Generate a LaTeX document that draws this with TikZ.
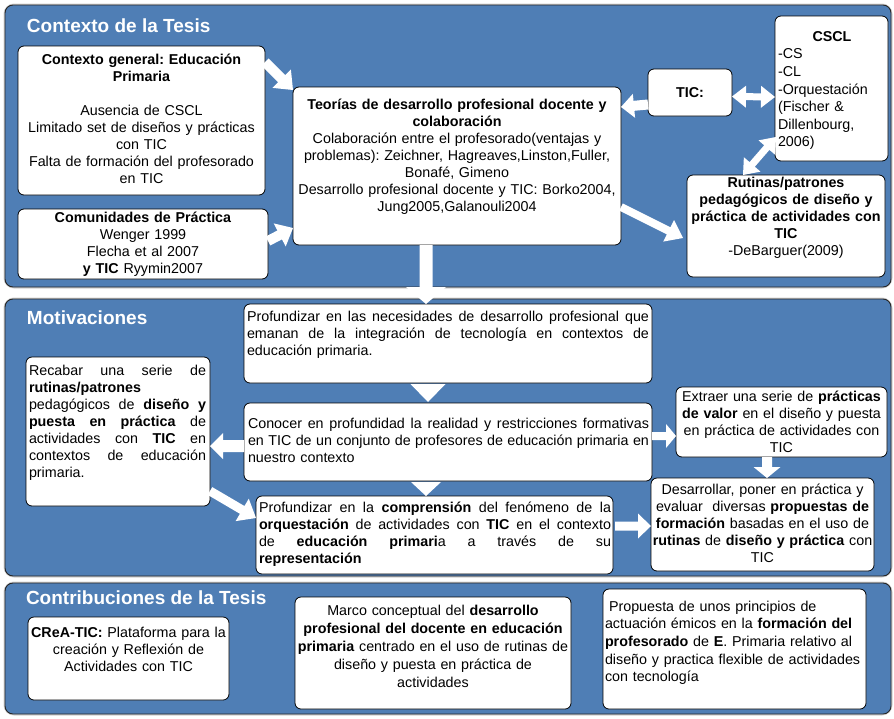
\documentclass[tikz,border=0pt]{standalone}
\usepackage{fontspec}
\setmainfont{Liberation Sans}
\usetikzlibrary{calc}
\definecolor{panelblue}{HTML}{4F7EB5}
\newcommand\jl[1]{\leavevmode\hbox to\hsize{\spaceskip=0.278em plus 1fil\xspaceskip=0.278em plus 1fil\relax #1}\\}
\newcommand\cl[1]{\leavevmode\hbox to\hsize{\hfil#1\hfil}\\}
% block arrow: #1 start, #2 end, #3 shaft half width, #4 head half width, #5 head length, #6 name
\newcommand\barrow[6]{%
  \coordinate (#6s) at #1; \coordinate (#6e) at #2;
  \coordinate (#6h) at ($(#6e)!#5!(#6s)$);
  \fill[arrowfill] ($(#6s)!#3!90:(#6e)$) -- ($(#6h)!#3!90:(#6e)$) -- ($(#6h)!#4!90:(#6e)$) -- (#6e)
    -- ($(#6h)!#4!-90:(#6e)$) -- ($(#6h)!#3!-90:(#6e)$) -- ($(#6s)!#3!-90:(#6e)$) -- cycle;}
% double block arrow
\newcommand\darrow[6]{%
  \coordinate (#6s) at #1; \coordinate (#6e) at #2;
  \coordinate (#6h) at ($(#6e)!#5!(#6s)$);
  \coordinate (#6g) at ($(#6s)!#5!(#6e)$);
  \fill[arrowfill] (#6s) -- ($(#6g)!#4!90:(#6e)$) -- ($(#6g)!#3!90:(#6e)$) -- ($(#6h)!#3!90:(#6e)$)
    -- ($(#6h)!#4!90:(#6e)$) -- (#6e) -- ($(#6h)!#4!-90:(#6e)$) -- ($(#6h)!#3!-90:(#6e)$)
    -- ($(#6g)!#3!-90:(#6e)$) -- ($(#6g)!#4!-90:(#6e)$) -- cycle;}
\tikzset{
  panel/.style={draw=black!85, line width=0.9pt, fill=panelblue, rounded corners=8pt,
    inner sep=0pt, outer sep=0pt, anchor=north west},
  panelshadow/.style={draw=black!18, line width=3pt, rounded corners=9pt},
  boxst/.style={draw=black, line width=0.8pt, fill=white, rounded corners=6pt,
    inner sep=0pt, outer sep=0pt, anchor=north west},
  txt/.style={inner sep=0pt, outer sep=0pt, font=\fontsize{14.3}{17}\selectfont\frenchspacing},
  titlest/.style={inner sep=0pt, outer sep=0pt, anchor=base west, text=white,
    font=\fontsize{19}{22}\selectfont\bfseries},
  arrowfill/.style={fill=white},
}
\begin{document}
\frenchspacing
\begin{tikzpicture}[x=1pt,y=-1pt]
\useasboundingbox (0,0) rectangle (894,718);
\fill[white] (0,0) rectangle (894,718);

% panels
\draw[panelshadow] (5,5) rectangle (891,287);
\draw[panelshadow] (5,299) rectangle (891,576);
\draw[panelshadow] (5,583) rectangle (891,714);
\node[panel, minimum width=886pt, minimum height=282pt] (p1) at (5,5) {};
\node[panel, minimum width=886pt, minimum height=277pt] (p2) at (5,299) {};
\node[panel, minimum width=886pt, minimum height=131pt] (p3) at (5,583) {};
\node[titlest] (t1) at (27,32) {Contexto de la Tesis};
\node[titlest] (t2) at (27,324) {Motivaciones};
\node[titlest] (t3) at (26,604) {Contribuciones de la Tesis};

% boxes of panel 1
\node[boxst, minimum width=247pt, minimum height=149pt] (a) at (18,46) {};
\node[boxst, minimum width=250pt, minimum height=70pt] (b) at (18,209) {};
\node[boxst, minimum width=328pt, minimum height=158pt] (c) at (293,87) {};
\node[boxst, minimum width=84pt, minimum height=47pt] (tic) at (648,69) {};
\node[boxst, minimum width=113pt, minimum height=145pt] (cscl) at (775,16) {};
\node[boxst, minimum width=198pt, minimum height=102pt] (rut) at (687,175) {};

\node[txt, anchor=north, text width=245pt, align=center] (at) at ([yshift=-7pt]a.north)
 {\strut\textbf{Contexto general: Educación}\\\textbf{Primaria}\\[17pt]Ausencia de CSCL\\Limitado set de diseños y prácticas\\con TIC\\Falta de formación del profesorado\\en TIC};
\node[txt, anchor=north, text width=248pt, align=center] (bt) at ([yshift=-2pt]b.north)
 {\strut\textbf{Comunidades de Práctica}\\Wenger 1999\\Flecha et al 2007\\\textbf{y TIC} Ryymin2007};
\node[txt, anchor=north, text width=326pt, align=center] (ct) at ([yshift=-11pt]c.north)
 {\strut\textbf{Teorías de desarrollo profesional docente y}\\\textbf{colaboración}\\Colaboración entre el profesorado(ventajas y\\problemas): Zeichner, Hagreaves,Linston,Fuller,\\Bonafé, Gimeno\\Desarrollo profesional docente y TIC: Borko2004,\\Jung2005,Galanouli2004};
\node[txt, anchor=center] (tict) at (tic.center) {\textbf{TIC:}};
\node[txt, anchor=north west, text width=108pt, align=left, font=\fontsize{14.3}{17.6}\selectfont] (csclt) at ($(cscl.north west)+(3,13)$)
 {\cl{\strut\textbf{CSCL}}-CS\\-CL\\-Orquestación\\(Fischer \&\\Dillenbourg,\\2006)};
\node[txt, anchor=north, text width=196pt, align=center] (rutt) at ([yshift=-1pt]rut.north)
 {\strut\textbf{Rutinas/patrones}\\\textbf{pedagógicos de diseño y}\\\textbf{práctica de actividades con}\\\textbf{TIC}\\-DeBarguer(2009)};

% boxes of panel 2
\node[boxst, minimum width=408pt, minimum height=79pt] (m1) at (244,304) {};
\node[boxst, minimum width=408pt, minimum height=78pt] (m2) at (244,403) {};
\node[boxst, minimum width=357pt, minimum height=78pt] (m3) at (256,496) {};
\node[boxst, minimum width=184pt, minimum height=149pt] (m4) at (26,357) {};
\node[boxst, minimum width=211pt, minimum height=70pt] (m5) at (676,387) {};
\node[boxst, minimum width=223pt, minimum height=93pt] (m6) at (651,478) {};

\node[txt, anchor=north west, text width=402pt, align=left] (m1t) at ($(m1.north west)+(3,6)$)
 {\jl{\strut Profundizar en las necesidades de desarrollo profesional que}\jl{emanan de la integración de tecnología en contextos de}educación primaria.};
\node[txt, anchor=north west, text width=401pt, align=left] (m2t) at ($(m2.north west)+(4,14)$)
 {\jl{\strut Conocer en profundidad la realidad y restricciones formativas}\jl{en TIC de un conjunto de profesores de educación primaria en}nuestro contexto};
\node[txt, anchor=north west, text width=352pt, align=left] (m3t) at ($(m3.north west)+(3,5)$)
 {\jl{\strut Profundizar en la \textbf{comprensión} del fenómeno de la}\jl{\textbf{orquestación} de actividades con \textbf{TIC} en el contexto}\jl{de \textbf{educación primari}a a través de su}\textbf{representación}};
\node[txt, anchor=north west, text width=177pt, align=left] (m4t) at ($(m4.north west)+(3,7)$)
 {\jl{\strut Recabar una serie de}\textbf{rutinas/patrones}\\\jl{pedagógicos de \textbf{diseño y}}\jl{\textbf{puesta en práctica} de}\jl{actividades con \textbf{TIC} en}\jl{contextos de educación}primaria.};
\node[txt, anchor=north, text width=209pt, align=center] (m5t) at ([yshift=-3pt]m5.north)
 {\strut Extraer una serie de \textbf{prácticas}\\\textbf{de valor} en el diseño y puesta\\en práctica de actividades con\\TIC};
\node[txt, anchor=north, text width=221pt, align=center] (m6t) at ([yshift=-5pt]m6.north)
 {\strut Desarrollar, poner en práctica y\\evaluar\ \ diversas \textbf{propuestas de}\\\textbf{formación} basadas en el uso de\\\textbf{rutinas} de \textbf{diseño y práctica} con\\TIC};

% boxes of panel 3
\node[boxst, minimum width=201pt, minimum height=83pt] (k1) at (28,617) {};
\node[boxst, minimum width=276pt, minimum height=112pt] (k2) at (295,597) {};
\node[boxst, minimum width=263pt, minimum height=120pt] (k3) at (603,589) {};
\node[txt, anchor=north, text width=199pt, align=center] (k1t) at ([yshift=-9pt]k1.north)
 {\strut\textbf{CReA-TIC:} Plataforma para la\\creación y Reflexión de\\Actividades con TIC};
\node[txt, anchor=north, text width=274pt, align=center, font=\fontsize{14.3}{18}\selectfont] (k2t) at ([yshift=-6pt]k2.north)
 {\strut Marco conceptual del \textbf{desarrollo}\\\textbf{profesional del docente en educación}\\\textbf{primaria} centrado en el uso de rutinas de\\diseño y puesta en práctica de\\actividades};
\node[txt, anchor=north west, text width=260pt, align=left, font=\fontsize{14.3}{17.6}\selectfont] (k3t) at ($(k3.north west)+(2,10)$)
 {\strut\hspace*{4pt}Propuesta de unos principios de\\actuación émicos en la \textbf{formación del}\\\textbf{profesorado} de \textbf{E}. Primaria relativo al\\diseño y practica flexible de actividades\\con tecnología};

% arrows
\barrow{($(a.north east)+(0,16)$)}{($(c.north west)+(0,3)$)}{5pt}{13pt}{16pt}{ac}
\barrow{($(b.north east)+(0,32)$)}{($(c.south west)+(0,-17)$)}{5pt}{13pt}{15pt}{bc}
\barrow{($(tic.west)+(0,12)$)}{($(c.north east)+(0,20)$)}{5pt}{12pt}{13pt}{tc}
\darrow{($(tic.east)+(0,4)$)}{($(cscl.north west)+(0,81)$)}{3.5pt}{11pt}{14pt}{ts}
\darrow{($(cscl.north west)+(1,121)$)}{($(rut.north west)+(56,0)$)}{3.5pt}{11pt}{14pt}{sr}
\barrow{($(c.north east)+(0,120)$)}{($(rut.north west)+(-4,63)$)}{4pt}{12pt}{16pt}{cr}
\barrow{($(c.south west)+(133,0)$)}{($(m1.north west)+(182,0)$)}{6.5pt}{20pt}{17pt}{cm}
\barrow{($(m1.south west)+(184,1)$)}{($(m2.north west)+(184,-1)$)}{6pt}{17.5pt}{18pt}{mm}
\barrow{($(m2.south west)+(182,1)$)}{($(m3.north west)+(170,0)$)}{6pt}{15pt}{14pt}{mn}
\barrow{($(m2.north west)+(0,43)$)}{($(m4.north east)+(0,89)$)}{6pt}{13pt}{13pt}{ml}
\barrow{($(m4.north east)+(0,134)$)}{($(m3.north west)+(0,22)$)}{4.5pt}{13pt}{16pt}{lm}
\barrow{($(m2.north east)+(0,33)$)}{($(m5.north west)+(0,49)$)}{4pt}{12pt}{10pt}{me}
\barrow{($(m5.south west)+(91,0)$)}{($(m6.north west)+(116,0)$)}{5pt}{13.5pt}{11pt}{ed}
\barrow{($(m3.north east)+(2,30)$)}{($(m6.north west)+(0,48)$)}{4.5pt}{12.5pt}{13pt}{pd}
\end{tikzpicture}
\end{document}
